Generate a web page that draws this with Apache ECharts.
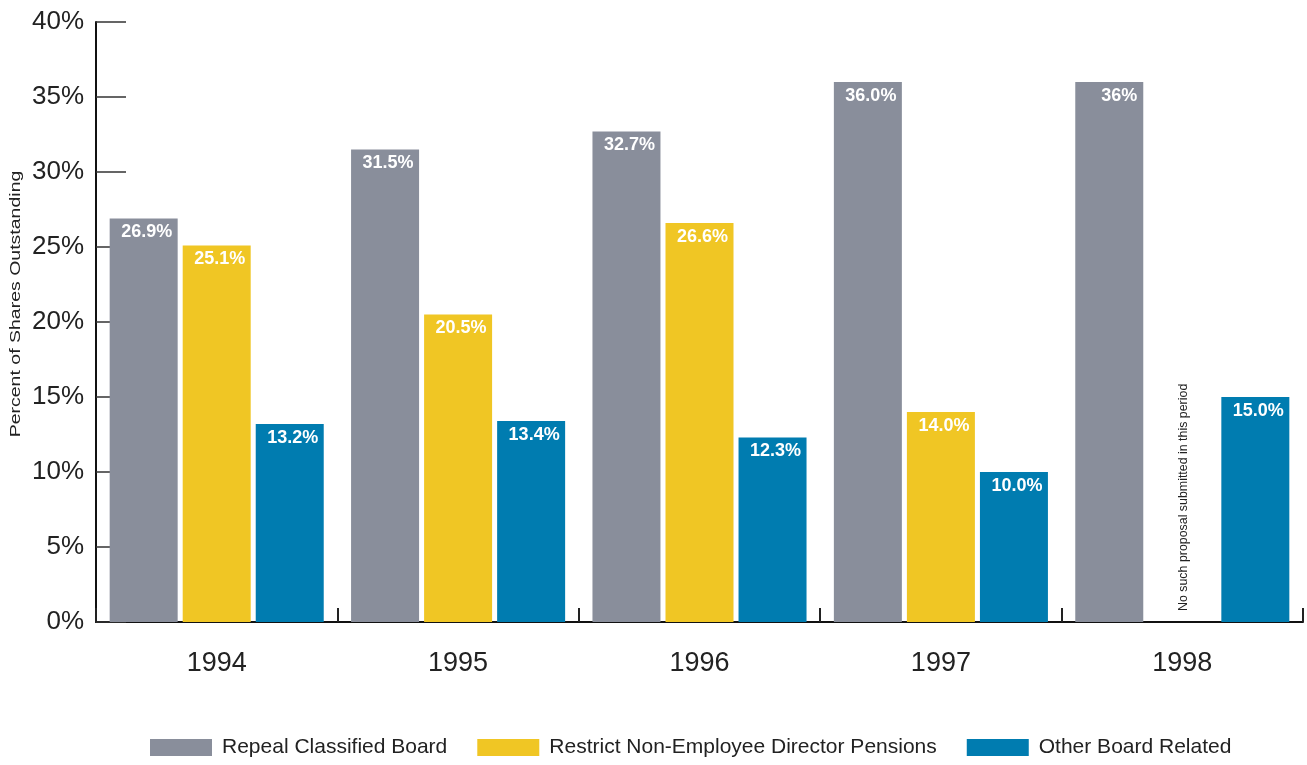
<!DOCTYPE html>
<html>
<head>
<meta charset="utf-8">
<script src="https://cdn.jsdelivr.net/npm/echarts@6/dist/echarts.min.js"></script>
<style>html,body{margin:0;padding:0;background:#fff}#c{width:1307px;height:765px}</style>
</head>
<body>
<div id="c"></div>
<script>
const years = ['1994', '1995', '1996', '1997', '1998'];
const seriesNames = ['Repeal Classified Board', 'Restrict Non-Employee Director Pensions', 'Other Board Related'];
const repealValues = [26.9, 31.5, 32.7, 36.0, 36];
const restrictValues = [25.1, 20.5, 26.6, 14.0, null];
const otherValues = [13.2, 13.4, 12.3, 10.0, 15.0];
const repealLabels = ['26.9%', '31.5%', '32.7%', '36.0%', '36%'];
const restrictLabels = ['25.1%', '20.5%', '26.6%', '14.0%', ''];
const otherLabels = ['13.2%', '13.4%', '12.3%', '10.0%', '15.0%'];
const yTicks = [0, 5, 10, 15, 20, 25, 30, 35, 40];
const yTitle = 'Percent of Shares Outstanding';
const noteText = 'No such proposal submitted in this period';
const noteYear = '1998';

const colors = ['#898E9B', '#F0C624', '#007CB0'];
const FONT = '"Liberation Sans", Arial, sans-serif';

function mk(name, vals, labels, color) {
  return {
    name: name,
    type: 'bar',
    barWidth: 68,
    barGap: '7.4%',
    itemStyle: { color: color },
    data: vals.map((v, i) => ({
      value: v,
      label: {
        formatter: () => labels[i],
        offset: (labels[i].length === 3 ? [10, 0] : [3, 0])
      }
    })),
    label: {
      show: true,
      position: 'insideTop',
      distance: 5,
      color: '#fff',
      fontWeight: 'bold',
      fontSize: 18,
      fontFamily: FONT
    }
  };
}

const chart = echarts.init(document.getElementById('c'), null, { renderer: 'canvas' });
chart.setOption({
  animation: false,
  grid: { left: 96, right: 4, top: 22, bottom: 143, containLabel: false, outerBoundsMode: 'none' },
  legend: {
    bottom: 2,
    left: 145,
    itemWidth: 62,
    itemHeight: 17,
    itemGap: 30,
    icon: 'rect',
    textStyle: { fontSize: 21, fontFamily: FONT, color: '#222', padding: [0, 0, 0, 5] },
    data: seriesNames
  },
  xAxis: {
    type: 'category',
    data: years,
    axisLine: { lineStyle: { color: '#111', width: 2 } },
    axisTick: { show: true, inside: true, length: 14, lineStyle: { color: '#222', width: 2 } },
    axisLabel: { fontSize: 27, fontFamily: FONT, color: '#222', margin: 28 }
  },
  yAxis: {
    type: 'value',
    min: yTicks[0],
    max: yTicks[yTicks.length - 1],
    interval: 5,
    splitLine: { show: false },
    axisLine: { show: true, lineStyle: { color: '#111', width: 2 } },
    axisTick: { show: true, inside: true, length: 30, lineStyle: { color: '#333', width: 1.5 } },
    axisLabel: { fontSize: 26, fontFamily: FONT, color: '#222', margin: 12, formatter: v => v + '%' }
  },
  series: [
    mk(seriesNames[0], repealValues, repealLabels, colors[0]),
    mk(seriesNames[1], restrictValues, restrictLabels, colors[1]),
    mk(seriesNames[2], otherValues, otherLabels, colors[2])
  ]
});

const px = chart.convertToPixel({ xAxisIndex: 0 }, noteYear);
const py = chart.convertToPixel({ yAxisIndex: 0 }, 0);
chart.setOption({
  graphic: [{
    type: 'text',
    x: px + 1,
    y: py - 11,
    rotation: Math.PI / 2,
    style: {
      text: noteText,
      fontSize: 12.4,
      fontFamily: FONT,
      fill: '#222',
      textAlign: 'left',
      textVerticalAlign: 'middle'
    }
  }, {
    type: 'text',
    x: 16,
    y: 304,
    rotation: Math.PI / 2,
    scaleX: 1.3,
    style: {
      text: yTitle,
      fontSize: 15,
      fontFamily: FONT,
      fill: '#222',
      textAlign: 'center',
      textVerticalAlign: 'middle'
    }
  }]
});
</script>
</body>
</html>
